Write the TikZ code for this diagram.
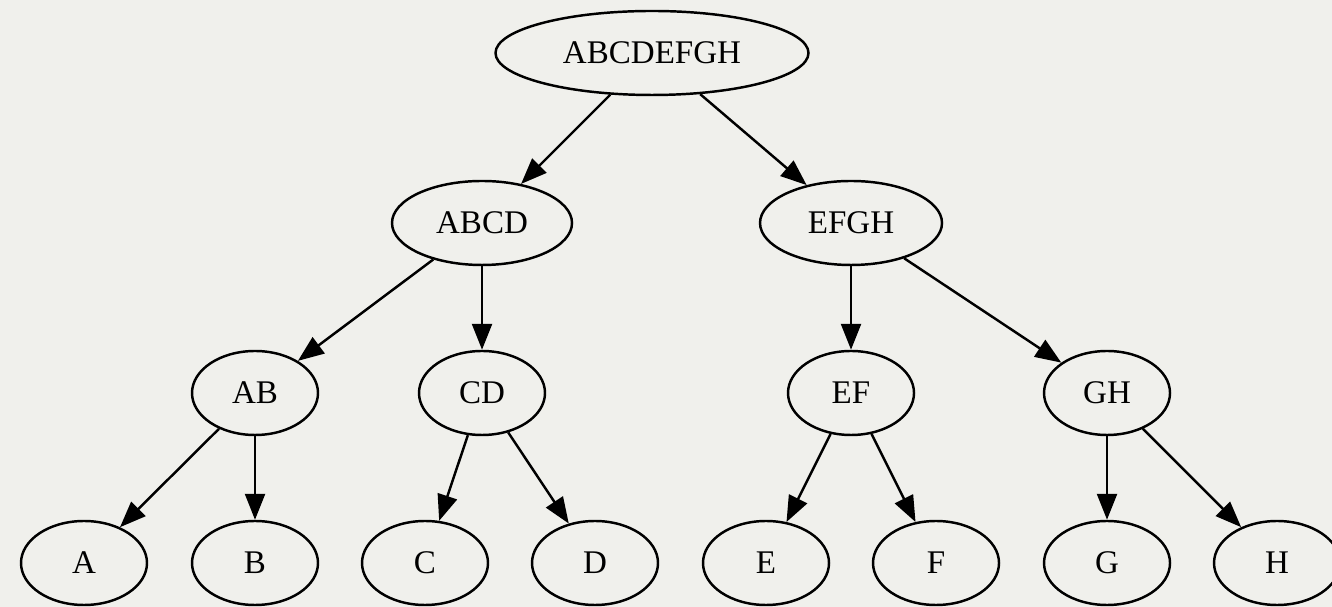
\documentclass[tikz,border=0pt]{standalone}
\usepackage{fontspec}
\setmainfont{Liberation Serif}
\usetikzlibrary{shapes.geometric,arrows.meta}
\definecolor{paper}{RGB}{240,240,236}
\begin{document}
\begin{tikzpicture}[
  vertex/.style={draw, ellipse, line width=0.7pt, inner sep=0pt,
    minimum width=1.26cm, minimum height=0.84cm,
    font=\fontsize{9.4pt}{11pt}\selectfont},
  link/.style={draw, line width=0.7pt, -{Triangle[length=0.26cm,width=0.20cm]}}
]
\fill[paper] (0,0) rectangle (13.32,6.07);
\useasboundingbox (0,0) rectangle (13.32,6.07);

\node[vertex, minimum width=3.13cm] (abcdefgh) at (6.52,5.54) {ABCDEFGH};
\node[vertex, minimum width=1.80cm] (abcd) at (4.82,3.84) {ABCD};
\node[vertex, minimum width=1.82cm] (efgh) at (8.51,3.84) {EFGH};

\node[vertex] (ab) at (2.55,2.14) {AB};
\node[vertex] (cd) at (4.82,2.14) {CD};
\node[vertex] (ef) at (8.51,2.14) {EF};
\node[vertex] (gh) at (11.07,2.14) {GH};

\node[vertex] (a) at (0.84,0.44) {A};
\node[vertex] (b) at (2.55,0.44) {B};
\node[vertex] (c) at (4.25,0.44) {C};
\node[vertex] (d) at (5.95,0.44) {D};
\node[vertex] (e) at (7.66,0.44) {E};
\node[vertex] (f) at (9.36,0.44) {F};
\node[vertex] (g) at (11.07,0.44) {G};
\node[vertex] (h) at (12.77,0.44) {H};

\path[link] (abcdefgh) -- (abcd);
\path[link] (abcdefgh) -- (efgh);
\path[link] (abcd) -- (ab);
\path[link] (abcd) -- (cd);
\path[link] (efgh) -- (ef);
\path[link] (efgh) -- (gh);
\path[link] (ab) -- (a);
\path[link] (ab) -- (b);
\path[link] (cd) -- (c);
\path[link] (cd) -- (d);
\path[link] (ef) -- (e);
\path[link] (ef) -- (f);
\path[link] (gh) -- (g);
\path[link] (gh) -- (h);
\end{tikzpicture}
\end{document}
